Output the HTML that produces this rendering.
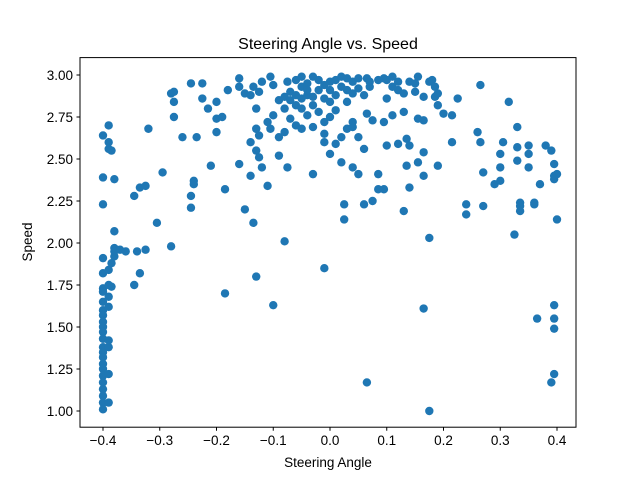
<!DOCTYPE html>
<html><head><meta charset="utf-8"><style>
body{margin:0;background:#fff}
svg{font-family:"Liberation Sans","DejaVu Sans",sans-serif}
</style></head><body>
<svg id="chart" width="640" height="480">
<rect width="640" height="480" fill="#fff"/>
<g id="pts"></g>
<rect x="80" y="57.6" width="496" height="369.6" fill="none" stroke="#000" stroke-width="1"/>
<g id="axes"></g>
<text x="328" y="49" text-anchor="middle" font-size="16">Steering Angle vs. Speed</text>
<text x="328" y="467" text-anchor="middle" font-size="13.5">Steering Angle</text>
<text x="32" y="242" text-anchor="middle" font-size="13.5" transform="rotate(-90 32 242)">Speed</text>
</svg>
<script>
const xTicks=[-0.4,-0.3,-0.2,-0.1,0.0,0.1,0.2,0.3,0.4];
const xTickLabels=["−0.4","−0.3","−0.2","−0.1","0.0","0.1","0.2","0.3","0.4"];
const yTicks=[1.0,1.25,1.5,1.75,2.0,2.25,2.5,2.75,3.0];
const yTickLabels=["1.00","1.25","1.50","1.75","2.00","2.25","2.50","2.75","3.00"];
const steering=[];
const speed=[];
const groups=[
[-0.4,[2.64,2.39,2.23,1.91,1.82,1.73,1.71,1.65,1.6,1.57,1.53,1.5,1.47,1.43,1.38,1.35,1.32,1.28,1.25,1.21,1.17,1.13,1.09,1.05,1.01]],
[-0.39,[2.7,2.6,2.56,1.84,1.75,1.68,1.62,1.42,1.38,1.22,1.05]],
[-0.385,[2.55,1.88,1.74]],[-0.38,[2.38,1.97,1.92,2.07,1.95]],[-0.37,[1.96]],[-0.36,[1.95]],
[-0.345,[2.28,1.75]],[-0.34,[1.95]],[-0.335,[2.33,1.82]],[-0.325,[2.34,1.96]],[-0.32,[2.68]],
[-0.305,[2.12]],[-0.295,[2.42]],[-0.28,[2.89,1.98]],[-0.275,[2.9,2.84,2.75]],[-0.26,[2.63]],
[-0.245,[2.95,2.28,2.21]],[-0.24,[2.37,2.35]],[-0.235,[2.63]],[-0.225,[2.95,2.86]],[-0.215,[2.8]],
[-0.21,[2.46]],[-0.2,[2.84,2.66,2.74]],[-0.19,[2.75]],[-0.185,[2.32,1.7]],[-0.18,[2.91]],
[-0.16,[2.47,2.93,2.98]],[-0.15,[2.89,2.2]],[-0.14,[2.6,2.88,2.4]],[-0.135,[2.12,2.93]],
[-0.13,[2.8,2.68,2.55,1.8]],[-0.125,[2.9,2.51,2.64]],[-0.12,[2.96,2.45]],[-0.11,[2.34,2.72]],
[-0.105,[2.99,2.68]],[-0.1,[1.63,2.94,2.76]],[-0.09,[2.52,2.63,2.85]],[-0.08,[2.01,2.87,2.8,2.66]],
[-0.075,[2.45,2.96]],[-0.07,[2.85,2.74,2.9]],[-0.06,[2.88,2.97,2.7,2.82]],[-0.05,[2.8,2.93,2.68,2.99,2.86]],
[-0.04,[2.76,2.88,2.95,2.91]],[-0.03,[2.41,2.69,2.82,2.99,2.87]],[-0.02,[2.97,2.78,2.91]],
[-0.01,[1.85,2.65,2.72,2.86,2.6,2.94]],[0.0,[2.75,2.53,2.96,2.91,2.84]],[0.01,[2.88,2.97,2.59,2.79]],
[0.02,[2.48,2.93,2.63,2.99]],[0.025,[2.23,2.14]],[0.03,[2.98,2.68,2.91,2.84]],[0.04,[2.72,2.96,2.45,2.69,2.89]],
[0.05,[2.92,2.98,2.63,2.41]],[0.06,[2.56,2.88,2.23]],[0.065,[1.17,2.77,2.98]],[0.07,[2.93,2.96]],
[0.075,[2.25,2.73]],[0.085,[2.97,2.41,2.32]],[0.095,[2.98,2.32,2.72]],[0.1,[2.86,2.58,2.97]],
[0.11,[2.93,2.76,2.99]],[0.12,[2.96,2.91,2.59]],[0.13,[2.19,2.78,2.89]],[0.135,[2.62,2.46]],
[0.14,[2.33,2.58,2.96]],[0.15,[2.9,2.95]],[0.155,[2.48,2.74,2.99]],[0.165,[2.4,2.87,2.73,1.61,2.54]],
[0.175,[2.03,1.0,2.96]],[0.18,[2.97]],[0.185,[2.93,2.87]],[0.19,[2.46,2.82,2.89]],[0.2,[2.77]],
[0.215,[2.6,2.76]],[0.225,[2.86]],[0.24,[2.23,2.17]],[0.26,[2.66]],[0.265,[2.6,2.94]],[0.27,[2.42,2.22]],
[0.29,[2.35]],[0.3,[2.53,2.45,2.37]],[0.305,[2.6]],[0.315,[2.84]],[0.325,[2.05]],[0.33,[2.57,2.49,2.69]],
[0.335,[2.24,2.22,2.19]],[0.35,[2.58,2.45,2.53]],[0.36,[2.23,2.24]],[0.365,[1.55]],[0.37,[2.35]],
[0.38,[2.58]],[0.39,[2.55,1.17]],[0.395,[2.47,2.4,2.38,1.63,1.55,1.49,1.22]],[0.4,[2.41,2.14]]
];
groups.forEach(g=>g[1].forEach(v=>{steering.push(g[0]);speed.push(v);}));
const X=v=>330+v*567.5;
const Y=v=>75-(v-3)*168;
const NS="http://www.w3.org/2000/svg";
const pts=document.getElementById('pts');
for(let i=0;i<steering.length;i++){
 const c=document.createElementNS(NS,'circle');
 c.setAttribute('cx',X(steering[i]));c.setAttribute('cy',Y(speed[i]));c.setAttribute('r',4.2);c.setAttribute('fill','#1f77b4');
 
 
 pts.appendChild(c);
}
const ax=document.getElementById('axes');
xTicks.forEach((t,i)=>{
 const l=document.createElementNS(NS,'line');
 l.setAttribute('x1',X(t));l.setAttribute('x2',X(t));l.setAttribute('y1',427.2);l.setAttribute('y2',430.7);l.setAttribute('stroke','#000');
 
 
 ax.appendChild(l);
 const tx=document.createElementNS(NS,'text');
 tx.setAttribute('x',X(t));tx.setAttribute('y',445);tx.setAttribute('text-anchor','middle');tx.setAttribute('font-size','13.5');
 tx.textContent=xTickLabels[i];
 
 
 ax.appendChild(tx);
});
yTicks.forEach((t,i)=>{
 const l=document.createElementNS(NS,'line');
 l.setAttribute('x1',76.5);l.setAttribute('x2',80);l.setAttribute('y1',Y(t));l.setAttribute('y2',Y(t));l.setAttribute('stroke','#000');
 
 
 ax.appendChild(l);
 const tx=document.createElementNS(NS,'text');
 tx.setAttribute('x',73);tx.setAttribute('y',Y(t)+5);tx.setAttribute('text-anchor','end');tx.setAttribute('font-size','13.5');
 tx.textContent=yTickLabels[i];
 
 
 ax.appendChild(tx);
});
</script>
</body></html>
